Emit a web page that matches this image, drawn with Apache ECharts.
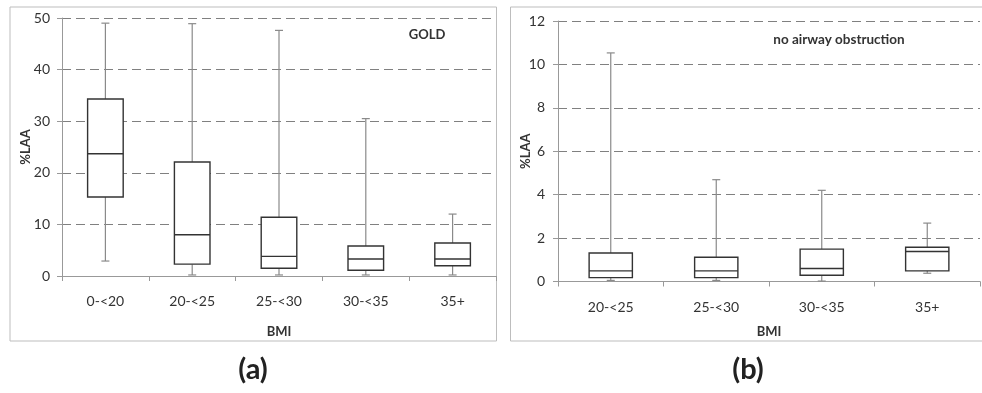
<!DOCTYPE html>
<html><head><meta charset="utf-8">
<script src="https://cdn.jsdelivr.net/npm/echarts@6/dist/echarts.min.js"></script>
<style>html,body{margin:0;padding:0;background:#fff}#c{width:982px;height:393px}</style>
</head><body><div id="c"></div>
<script>
var FONT = 'Lato, "Liberation Sans", sans-serif';
// Panel (a): GOLD
var catsA = ['0-<20', '20-<25', '25-<30', '30-<35', '35+'];
var aMin = [2.9, 0.2, 0.2, 0.2, 0.2];
var aQ1  = [15.3, 2.3, 1.5, 1.1, 2.0];
var aMed = [23.7, 8.0, 3.8, 3.3, 3.3];
var aQ3  = [34.3, 22.1, 11.4, 5.8, 6.4];
var aMax = [49.0, 48.9, 47.6, 30.5, 12.0];
var ticksA = [0, 10, 20, 30, 40, 50];
// Panel (b): no airway obstruction
var catsB = ['20-<25', '25-<30', '30-<35', '35+'];
var bMin = [0.05, 0.05, 0.02, 0.38];
var bQ1  = [0.18, 0.18, 0.29, 0.49];
var bMed = [0.49, 0.49, 0.60, 1.38];
var bQ3  = [1.31, 1.12, 1.49, 1.58];
var bMax = [10.53, 4.69, 4.20, 2.69];
var ticksB = [0, 2, 4, 6, 8, 10, 12];

function build(mn, q1, md, q3, mx) {
  return mn.map(function (v, i) { return [i, mn[i], q1[i], md[i], q3[i], mx[i]]; });
}
function renderBox(params, api) {
  var x = api.value(0);
  var bw = api.size([1, 0])[0] * 0.41;
  var cx = api.coord([x, 0])[0];
  var yMin = api.coord([x, api.value(1)])[1];
  var yQ1 = api.coord([x, api.value(2)])[1];
  var yMed = api.coord([x, api.value(3)])[1];
  var yQ3 = api.coord([x, api.value(4)])[1];
  var yMax = api.coord([x, api.value(5)])[1];
  var cap = 4;
  var ws = { stroke: '#8a8a8a', lineWidth: 1.2 };
  var bs = { stroke: '#333', lineWidth: 1.4, fill: null };
  return {
    type: 'group',
    children: [
      { type: 'line', shape: { x1: cx, y1: yMax, x2: cx, y2: yQ3 }, style: ws },
      { type: 'line', shape: { x1: cx, y1: yQ1, x2: cx, y2: yMin }, style: ws },
      { type: 'line', shape: { x1: cx - cap, y1: yMax, x2: cx + cap, y2: yMax }, style: ws },
      { type: 'line', shape: { x1: cx - cap, y1: yMin, x2: cx + cap, y2: yMin }, style: ws },
      { type: 'rect', shape: { x: cx - bw / 2, y: yQ3, width: bw, height: yQ1 - yQ3 }, style: { stroke: '#333', lineWidth: 1.4, fill: '#fff' } },
      { type: 'line', shape: { x1: cx - bw / 2, y1: yMed, x2: cx + bw / 2, y2: yMed }, style: bs }
    ]
  };
}
function xAx(idx, cats, margin, gap) {
  return {
    type: 'category', gridIndex: idx, data: cats, boundaryGap: true,
    name: 'BMI', nameLocation: 'middle', nameGap: gap, nameMoveOverlap: false,
    nameTextStyle: { fontFamily: FONT, fontSize: 13, fontWeight: 'bold', color: '#333' },
    axisLine: { lineStyle: { color: '#999', width: 1 } },
    axisTick: { show: true, length: 5, lineStyle: { color: '#999' } },
    axisLabel: { fontFamily: FONT, fontSize: 14, color: '#333', margin: margin },
    splitLine: { show: false }
  };
}
function yAx(idx, max, interval, gap, margin) {
  return {
    type: 'value', gridIndex: idx, min: 0, max: max, interval: interval,
    name: '%LAA', nameLocation: 'middle', nameGap: gap, nameRotate: 90, nameMoveOverlap: false,
    nameTextStyle: { fontFamily: FONT, fontSize: 13, fontWeight: 'bold', color: '#333' },
    axisLine: { show: true, lineStyle: { color: '#999', width: 1 } },
    axisTick: { show: true, length: 5, lineStyle: { color: '#999' } },
    axisLabel: { fontFamily: FONT, fontSize: 14, color: '#333', margin: margin },
    splitLine: { show: true, lineStyle: { color: '#808080', type: [9, 5], width: 1 } }
  };
}
var chart = echarts.init(document.getElementById('c'), null, { renderer: 'canvas' });
chart.setOption({
  animation: false,
  backgroundColor: '#fff',
  grid: [
    { left: 62, top: 18, width: 434, height: 258 },
    { left: 558, top: 21, width: 422, height: 260.5 }
  ],
  xAxis: [xAx(0, catsA, 18, 49), xAx(1, catsB, 19, 44)],
  yAxis: [yAx(0, ticksA[ticksA.length - 1], ticksA[1] - ticksA[0], 30, 12),
          yAx(1, ticksB[ticksB.length - 1], ticksB[1] - ticksB[0], 26, 13)],
  series: [
    { type: 'custom', xAxisIndex: 0, yAxisIndex: 0, renderItem: renderBox,
      encode: { x: 0, y: [1, 2, 3, 4, 5] }, data: build(aMin, aQ1, aMed, aQ3, aMax), z: 3 },
    { type: 'custom', xAxisIndex: 1, yAxisIndex: 1, renderItem: renderBox,
      encode: { x: 0, y: [1, 2, 3, 4, 5] }, data: build(bMin, bQ1, bMed, bQ3, bMax), z: 3 }
  ],
  graphic: [
    { type: 'rect', z: -1, shape: { x: 10, y: 7, width: 486.5, height: 334 }, style: { fill: null, stroke: '#bdbdbd', lineWidth: 1 } },
    { type: 'rect', z: -1, shape: { x: 510.5, y: 7, width: 480, height: 334 }, style: { fill: null, stroke: '#bdbdbd', lineWidth: 1 } },
    { type: 'text', x: 427, y: 35, style: { text: 'GOLD', font: 'bold 13px ' + FONT, fill: '#333', textAlign: 'center', textVerticalAlign: 'middle' } },
    { type: 'text', x: 839, y: 40, style: { text: 'no airway obstruction', font: 'bold 13.5px ' + FONT, fill: '#333', textAlign: 'center', textVerticalAlign: 'middle' } },
    { type: 'text', x: 253, y: 370, style: { text: '(a)', font: 'bold 29px ' + FONT, fill: '#222', textAlign: 'center', textVerticalAlign: 'middle' } },
    { type: 'text', x: 748, y: 370, style: { text: '(b)', font: 'bold 29px ' + FONT, fill: '#222', textAlign: 'center', textVerticalAlign: 'middle' } }
  ]
});
</script></body></html>
